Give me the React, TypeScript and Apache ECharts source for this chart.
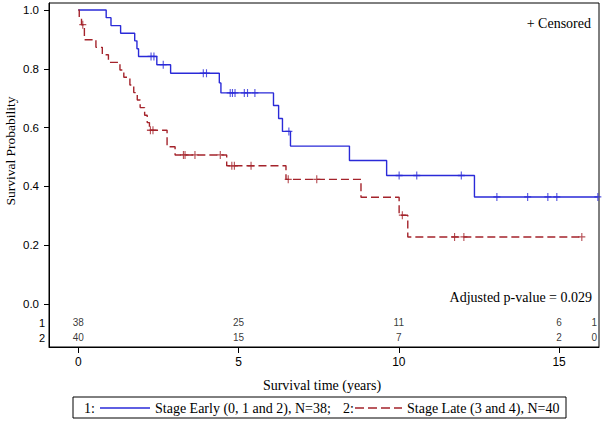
import React, { useEffect, useRef } from "react";
import * as echarts from "echarts";

// Kaplan-Meier steps: event times (years) and survival after each step
const earlyTimes = [0.87, 1.02, 1.32, 1.76, 1.83, 1.88, 2.45, 2.88, 4.40, 4.45, 6.09, 6.25, 6.37, 6.62, 8.46, 9.62, 12.36];
const earlySurv = [0.974, 0.947, 0.921, 0.895, 0.868, 0.842, 0.814, 0.785, 0.752, 0.718, 0.675, 0.631, 0.587, 0.537, 0.488, 0.437, 0.364];
const earlyCensored = [2.27, 2.36, 2.65, 3.90, 4.00, 4.74, 4.81, 4.89, 5.18, 5.28, 5.51, 6.57, 10.01, 10.56, 11.95, 13.06, 14.02, 14.65, 14.93, 16.21];

const lateTimes = [0.03, 0.10, 0.19, 0.55, 0.75, 0.94, 1.30, 1.42, 1.61, 1.73, 1.84, 1.93, 2.07, 2.15, 2.22, 2.77, 3.02, 4.63, 6.48, 8.82, 10.01, 10.28];
const lateSurv = [0.975, 0.95, 0.899, 0.873, 0.848, 0.822, 0.796, 0.771, 0.745, 0.719, 0.694, 0.668, 0.642, 0.617, 0.591, 0.535, 0.507, 0.470, 0.424, 0.363, 0.302, 0.228];
const lateCensored = [0.14, 2.25, 2.33, 3.28, 3.33, 3.64, 4.43, 4.79, 4.87, 5.39, 6.55, 7.44, 10.11, 11.74, 12.03, 15.71];

// Numbers at risk
const atRiskTimes = [0, 5, 10, 15, 16.1];
const atRiskEarly = [38, 25, 11, 6, 1];
const atRiskLate = [40, 15, 7, 2, 0];

const xTicks = [0, 5, 10, 15];
const yTicks = [0, 0.2, 0.4, 0.6, 0.8, 1.0];

const BLUE = "#2a2ad8";
const RED = "#a4232b";
const SERIF = "'Liberation Serif', 'Times New Roman', serif";
const SANS = "'Liberation Sans', Arial, sans-serif";

function stepValue(times: number[], surv: number[], t: number): number {
  let s = 1;
  for (let i = 0; i < times.length; i++) {
    if (times[i] <= t) s = surv[i];
  }
  return s;
}

function stepData(times: number[], surv: number[], censored: number[]) {
  const d: number[][] = [[0, 1]];
  times.forEach((t, i) => d.push([t, surv[i]]));
  const last = Math.max(times[times.length - 1], censored[censored.length - 1]);
  d.push([last, surv[surv.length - 1]]);
  return d;
}

const ROW1_Y = -0.0646;
const ROW2_Y = -0.1156;

export default function App() {
  const ref = useRef<HTMLDivElement>(null);
  useEffect(() => {
    document.body.style.margin = "0";
    const chart = echarts.init(ref.current!, null, { renderer: "svg" });
    const plus = "path://M5,0L5,10M0,5L10,5";
    const censorSeries = (times: number[], surv: number[], cens: number[], color: string) => ({
      type: "scatter",
      data: cens.map((t) => [t, stepValue(times, surv, t)]),
      symbol: plus,
      symbolSize: [7, 8],
      itemStyle: { color: "none", borderColor: color, borderWidth: 1.2 },
      silent: true,
      z: 4,
    });
    const riskSeries = (vals: number[], y: number) => ({
      type: "scatter",
      data: atRiskTimes.map((t, i) => [t, y, vals[i]]),
      symbol: "circle",
      symbolSize: 1,
      itemStyle: { color: "rgba(0,0,0,0)" },
      label: {
        show: true,
        position: "inside",
        formatter: (p: any) => String(p.value[2]),
        fontFamily: SANS,
        fontSize: 10,
        color: "#000",
      },
      silent: true,
    });
    chart.setOption({
      animation: false,
      backgroundColor: "#fff",
      grid: {
        left: 49,
        top: 3,
        width: 550,
        height: 344,
        show: true,
        borderColor: "#000",
        borderWidth: 1,
        backgroundColor: "transparent",
      },
      xAxis: {
        type: "value",
        min: -0.914,
        max: 16.246,
        axisLine: { show: true, onZero: false, lineStyle: { color: "#000", width: 1 } },
        splitLine: { show: false },
        axisTick: { show: true, customValues: xTicks, length: 6, lineStyle: { color: "#000" } },
        axisLabel: {
          customValues: xTicks,
          margin: 9,
          fontFamily: SANS,
          fontSize: 12,
          color: "#000",
        },
      },
      yAxis: {
        type: "value",
        min: -0.1463,
        max: 1.0238,
        axisLine: { show: true, onZero: false, lineStyle: { color: "#000", width: 1 } },
        splitLine: { show: false },
        axisTick: { show: true, customValues: yTicks, length: 5, lineStyle: { color: "#000" } },
        axisLabel: {
          customValues: yTicks,
          margin: 10,
          fontFamily: SANS,
          fontSize: 11.5,
          color: "#000",
          formatter: (v: number) => v.toFixed(1),
        },
      },
      series: [
        {
          type: "line",
          step: "end",
          data: stepData(earlyTimes, earlySurv, earlyCensored),
          showSymbol: false,
          lineStyle: { color: BLUE, width: 1.4 },
          silent: true,
          z: 3,
        },
        {
          type: "line",
          step: "end",
          data: stepData(lateTimes, lateSurv, lateCensored),
          showSymbol: false,
          lineStyle: { color: RED, width: 1.4, type: [8, 4] },
          silent: true,
          z: 3,
        },
        censorSeries(earlyTimes, earlySurv, earlyCensored, BLUE),
        censorSeries(lateTimes, lateSurv, lateCensored, RED),
        riskSeries(atRiskEarly, ROW1_Y),
        riskSeries(atRiskLate, ROW2_Y),
      ],
      graphic: [
        {
          type: "text",
          x: 10,
          y: 151,
          rotation: Math.PI / 2,
          style: { text: "Survival Probability", font: `13.5px ${SERIF}`, fill: "#000", align: "center", verticalAlign: "middle" },
        },
        {
          type: "text",
          x: 322,
          y: 385,
          style: { text: "Survival time (years)", font: `14px ${SERIF}`, fill: "#000", align: "center", verticalAlign: "middle" },
        },
        {
          type: "text",
          x: 591,
          y: 23,
          style: { text: "+ Censored", font: `14px ${SERIF}`, fill: "#000", align: "right", verticalAlign: "middle" },
        },
        {
          type: "text",
          x: 592,
          y: 297,
          style: { text: "Adjusted p-value = 0.029", font: `14px ${SERIF}`, fill: "#000", align: "right", verticalAlign: "middle" },
        },
        {
          type: "text",
          x: 45,
          y: 323,
          style: { text: "1", font: `11px ${SANS}`, fill: "#000", align: "right", verticalAlign: "middle" },
        },
        {
          type: "text",
          x: 45,
          y: 338,
          style: { text: "2", font: `11px ${SANS}`, fill: "#000", align: "right", verticalAlign: "middle" },
        },
        {
          type: "rect",
          shape: { x: 73, y: 397, width: 493, height: 21 },
          style: { fill: "none", stroke: "#000", lineWidth: 1 },
        },
        {
          type: "text",
          x: 84,
          y: 408,
          style: { text: "1:", font: `14px ${SERIF}`, fill: "#000", align: "left", verticalAlign: "middle" },
        },
        {
          type: "line",
          shape: { x1: 100, y1: 408, x2: 150, y2: 408 },
          style: { stroke: BLUE, lineWidth: 1.4 },
        },
        {
          type: "text",
          x: 155,
          y: 408,
          style: { text: "Stage Early (0, 1 and 2), N=38;", font: `14px ${SERIF}`, fill: "#000", align: "left", verticalAlign: "middle" },
        },
        {
          type: "text",
          x: 343,
          y: 408,
          style: { text: "2:", font: `14px ${SERIF}`, fill: "#000", align: "left", verticalAlign: "middle" },
        },
        {
          type: "line",
          shape: { x1: 355, y1: 408, x2: 402, y2: 408 },
          style: { stroke: RED, lineWidth: 1.4, lineDash: [9, 4] },
        },
        {
          type: "text",
          x: 407,
          y: 408,
          style: { text: "Stage Late (3 and 4), N=40", font: `14px ${SERIF}`, fill: "#000", align: "left", verticalAlign: "middle" },
        },
      ],
    });
    return () => chart.dispose();
  }, []);
  return <div ref={ref} style={{ position: "fixed", left: 0, top: 0, width: 609, height: 421 }} />;
}
